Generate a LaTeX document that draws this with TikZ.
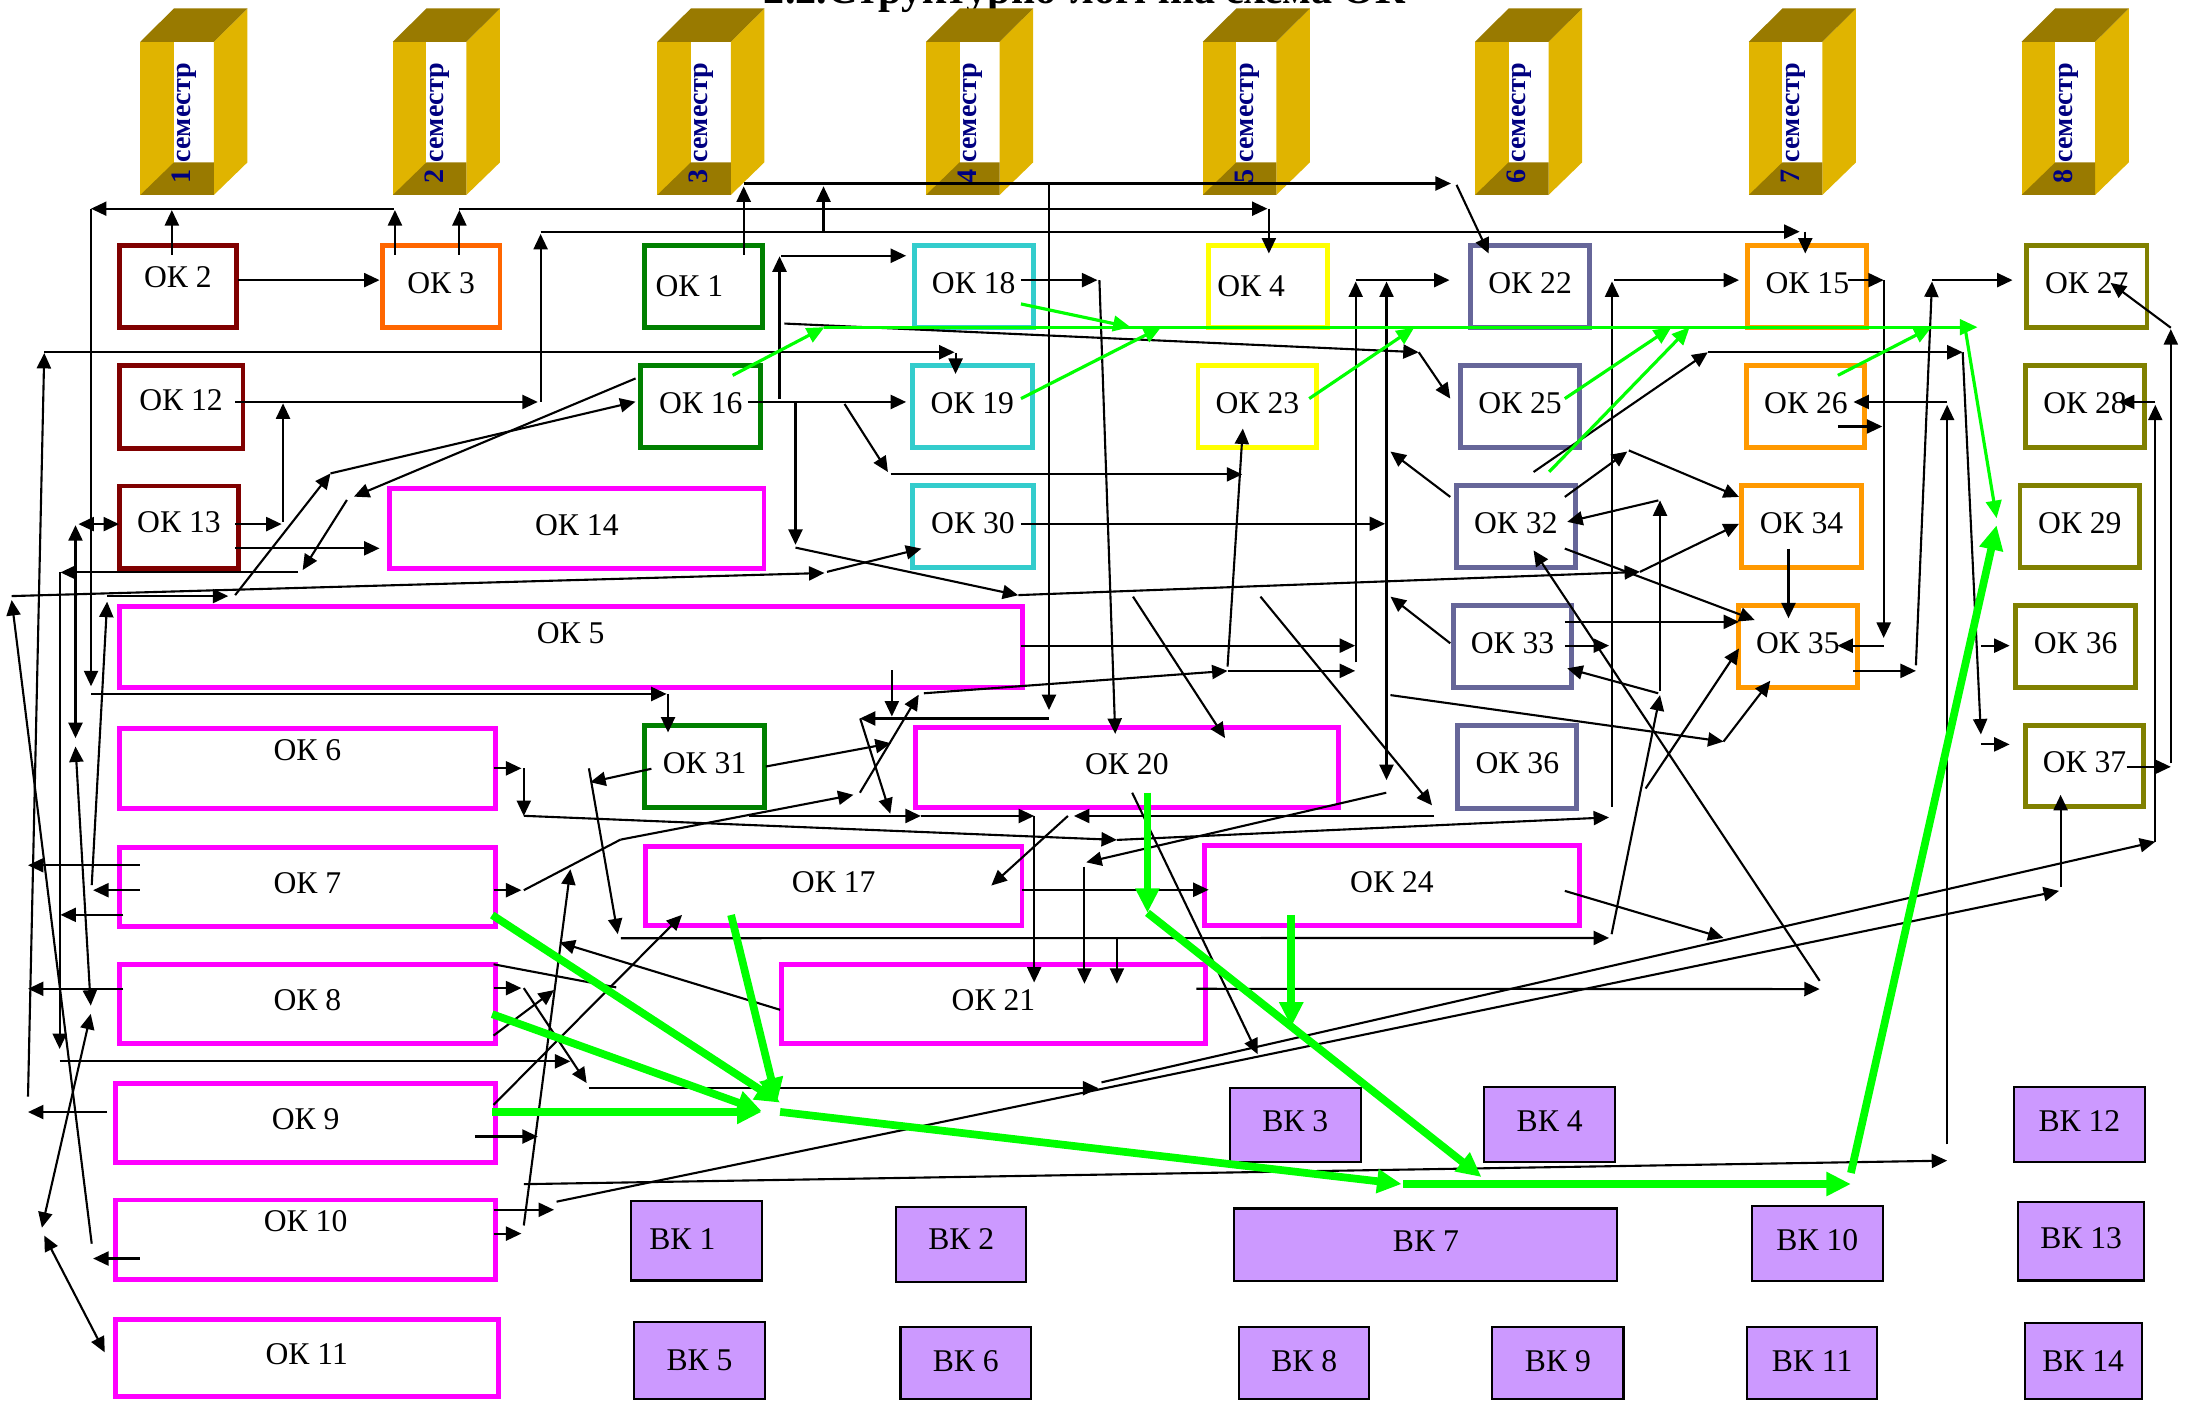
\documentclass[tikz,border=0pt]{standalone}
\usepackage{fontspec}
\setmainfont{Liberation Serif}
\usepackage{xcolor}
\usepackage{tikz}
\usetikzlibrary{arrows.meta,fit}
\definecolor{okred}{HTML}{800000}
\definecolor{okorange}{HTML}{FF6600}
\definecolor{okgreen}{HTML}{008000}
\definecolor{okcyan}{HTML}{33CCCC}
\definecolor{okyellow}{HTML}{FFFF00}
\definecolor{okslate}{HTML}{666699}
\definecolor{okamber}{HTML}{FF9900}
\definecolor{okolive}{HTML}{808000}
\definecolor{okmag}{HTML}{FF00FF}
\definecolor{vkfill}{HTML}{CC99FF}
\definecolor{gline}{HTML}{00FF00}
\definecolor{goldL}{HTML}{E0B400}
\definecolor{goldD}{HTML}{997A00}
\definecolor{semtext}{HTML}{000080}
\tikzset{
  box/.style={draw, line width=1.4pt, inner sep=0pt},
  vk/.style={draw=black, fill=vkfill, line width=0.6pt, inner sep=0pt},
  txt/.style={font=\fontsize{9}{10}\selectfont, inner sep=0pt},
  ln/.style={line width=0.6pt},
  arr/.style={ln, -{Triangle[length=4.4pt,width=4pt]}},
  darr/.style={ln, {Triangle[length=4.4pt,width=4pt]}-{Triangle[length=4.4pt,width=4pt]}},
  garr/.style={draw=gline, line width=0.9pt, -{Triangle[length=5pt,width=4.4pt]}},
  gthick/.style={draw=gline, line width=2.2pt, -{Triangle[length=7pt,width=6.5pt]}},
  semlab/.style={rotate=90, anchor=base west, text=semtext, inner sep=0pt,
    font=\bfseries\fontsize{8}{10}\selectfont}
}
% box: [text shift]{name}{style}{corner}{corner}{text}
\newcommand{\okbox}[6][1pt]{\node[#3, fit={(#4) (#5)}, label={[txt, yshift=#1]center:#6}] (#2) {};}
% semester frame: {x}{number}
\newcommand{\semframe}[2]{
  \fill[goldL] (#1,29.8) rectangle (#1+24,139.2);
  \fill[goldL] (#1+52.5,29.8) -- (#1+76.5,6) -- (#1+76.5,115.9) -- (#1+52.5,139.2) -- cycle;
  \fill[goldD] (#1,29.8) -- (#1+52.5,29.8) -- (#1+76.5,6) -- (#1+24,6) -- cycle;
  \fill[goldD] (#1,139.2) -- (#1+24,115.9) -- (#1+52.5,115.9) -- (#1+52.5,139.2) -- cycle;
  \node[semlab] (sem#2) at (#1+36,131.5) {#2 семестр};
}

\begin{document}
\begin{tikzpicture}[x=0.014005cm, y=-0.014005cm]
  \useasboundingbox (0,0) rectangle (1568,1000);
  \node[anchor=base west, inner sep=0pt, font=\bfseries\fontsize{12}{14}\selectfont] (title) at (545,2.5) {2.2.Структурно-логічна схема ОК};

  \semframe{100.2}{1}
  \semframe{280.5}{2}
  \semframe{469.3}{3}
  \semframe{661.2}{4}
  \semframe{858.8}{5}
  \semframe{1053.2}{6}
  \semframe{1248.7}{7}
  \semframe{1443.5}{8}

  % row 1
  \okbox[2.7pt]{ok2}{box, draw=okred}{85,175}{169,234}{ОК 2}
  \okbox{ok3}{box, draw=okorange}{273,175}{357,234}{ОК 3}
  \node[box, draw=okgreen, fit={(460,175) (544.5,234)}, label={[txt, xshift=-4pt]center:ОК 1}] (ok1) {};
  \okbox{ok18}{box, draw=okcyan}{652.7,175}{737.8,234}{ОК 18}
  \node[box, draw=okyellow, fit={(863,175) (947.7,234)}, label={[txt, xshift=-4.8pt]center:ОК 4}] (ok4) {};
  \okbox{ok22}{box, draw=okslate}{1050,175}{1135,234}{ОК 22}
  \okbox{ok15}{box, draw=okamber}{1248,175}{1333,234}{ОК 15}
  \okbox{ok27}{box, draw=okolive}{1447,175}{1533,234}{ОК 27}
  % row 2
  \okbox[2pt]{ok12}{box, draw=okred}{85,261}{173.5,320}{ОК 12}
  \okbox{ok16}{box, draw=okgreen}{457.5,261}{543.2,319.6}{ОК 16}
  \okbox{ok19}{box, draw=okcyan}{651.4,261}{737,319.6}{ОК 19}
  \okbox{ok23}{box, draw=okyellow}{855.4,261}{940.2,319.6}{ОК 23}
  \okbox{ok25}{box, draw=okslate}{1043,261}{1127.7,319.5}{ОК 25}
  \okbox{ok26}{box, draw=okamber}{1247.3,261}{1331.6,319.5}{ОК 26}
  \okbox{ok28}{box, draw=okolive}{1446,261}{1531.5,319.5}{ОК 28}
  % row 3
  \okbox[1.4pt]{ok13}{box, draw=okred}{85,347}{170.5,405.8}{ОК 13}
  \okbox{ok14}{box, draw=okmag}{278.3,348.7}{545.5,405.8}{ОК 14}
  \okbox{ok30}{box, draw=okcyan}{651.4,346.6}{738,405.3}{ОК 30}
  \okbox{ok32}{box, draw=okslate}{1040,346.6}{1124.7,405.3}{ОК 32}
  \okbox{ok34}{box, draw=okamber}{1243.6,346.6}{1329,405.3}{ОК 34}
  \okbox{ok29}{box, draw=okolive}{1442.3,346.6}{1527.7,405.3}{ОК 29}
  % row 4
  \okbox[4pt]{ok5}{box, draw=okmag}{85,433.2}{730,491}{ОК 5}
  \okbox{ok33}{box, draw=okslate}{1038,432.6}{1122,490.7}{ОК 33}
  \okbox{ok35}{box, draw=okamber}{1241,432.6}{1326.4,490.7}{ОК 35}
  \okbox{ok36}{box, draw=okolive}{1439.3,432.6}{1524.8,490.7}{ОК 36}
  % row 5
  \okbox[5pt]{ok6}{box, draw=okmag}{85,520}{354,577}{ОК 6}
  \okbox{ok31}{box, draw=okgreen}{460.5,518}{545.7,576.6}{ОК 31}
  \okbox{ok20}{box, draw=okmag}{653.5,519.3}{955.7,576.6}{ОК 20}
  \okbox{ok36b}{box, draw=okslate}{1041,518}{1125.8,577}{ОК 36}
  \okbox{ok37}{box, draw=okolive}{1446,518}{1530.7,575.7}{ОК 37}
  % rows 6-10
  \okbox{ok7}{box, draw=okmag}{85,605}{354,661.6}{ОК 7}
  \okbox{ok17}{box, draw=okmag}{460.8,604.3}{729.7,660.9}{ОК 17}
  \okbox{ok24}{box, draw=okmag}{860,604}{1127.7,660.9}{ОК 24}
  \okbox{ok8}{box, draw=okmag}{85,688.5}{354,745}{ОК 8}
  \okbox{ok21}{box, draw=okmag}{557.8,688.5}{860.9,745}{ОК 21}
  \okbox{ok9}{box, draw=okmag}{82.4,773.3}{354,830}{ОК 9}
  \okbox[5.3pt]{ok10}{box, draw=okmag}{82.4,856.8}{354,913.3}{ОК 10}
  \okbox{ok11}{box, draw=okmag}{82.4,942}{355.7,997}{ОК 11}

  % elective blocks
  \okbox{vk3}{vk}{878.3,776.7}{971.5,829.4}{ВК 3}
  \okbox{vk4}{vk}{1059.7,776.2}{1153.3,829.6}{ВК 4}
  \okbox{vk12}{vk}{1437.9,776.2}{1531.5,829.6}{ВК 12}
  \node[vk, fit={(450.7,857.4) (543.8,914.3)}, label={[txt, xshift=-4pt, yshift=0.5pt]center:ВК 1}] (vk1) {};
  \okbox[1.5pt]{vk2}{vk}{640,861.6}{732.7,915.2}{ВК 2}
  \okbox{vk7}{vk}{881.4,862.9}{1154.8,914.9}{ВК 7}
  \okbox{vk10}{vk}{1251,861.4}{1344.2,914.9}{ВК 10}
  \okbox{vk13}{vk}{1440.8,858.5}{1531.1,914.3}{ВК 13}
  \okbox[0pt]{vk5}{vk}{452.9,943.8}{546,999}{ВК 5}
  \okbox[0.5pt]{vk6}{vk}{643,947.7}{736.2,999}{ВК 6}
  \okbox[0.5pt]{vk8}{vk}{884.9,947.7}{977.6,999}{ВК 8}
  \okbox[0.5pt]{vk9}{vk}{1065.6,947.8}{1159.2,999}{ВК 9}
  \okbox[0.5pt]{vk11}{vk}{1247.3,947.8}{1340.5,999}{ВК 11}
  \okbox[0pt]{vk14}{vk}{1445.6,944.9}{1529.2,999}{ВК 14}

  % top buses
  \draw[arr] (122.7,182) -- (122.7,150);
  \draw[arr] (170,200) -- (271,200);
  \draw[arr] (282,182) -- (282,150);
  \draw[arr] (281,149) -- (65,149);
  \draw[arr] (65,149) -- (65,490);
  \draw[arr] (65,495.5) -- (476,495.5);
  \draw[arr] (477,495.5) -- (477,523);
  \draw[arr] (328,182) -- (328,150);
  \draw[arr] (328,149) -- (905,149);
  \draw[arr] (906,149) -- (906,181);
  \draw[arr] (168,287) -- (384,287);
  \draw[arr] (386,287) -- (386,167);
  \draw[arr] (386,165.4) -- (1285,165.4);
  \draw[arr] (1289,165.4) -- (1289,181);
  \draw[arr] (531,182) -- (531,133);
  \draw[arr] (531,131) -- (1036,131);
  \draw[arr] (1040,132) -- (1063,181);
  \draw[arr] (588,165.4) -- (588,133);
  \draw[arr] (749,131) -- (749,507);
  \draw[arr] (749,513) -- (614,513);
  \draw[arr] (556.6,285) -- (556.6,183);
  \draw[arr] (557.7,182.6) -- (647,182.6);
  \draw[arr] (534,287) -- (647,287);
  \draw[arr] (568,288) -- (568,389);
  \draw[arr] (568,391) -- (727,425);
  \draw[arr] (603,288.4) -- (634,337);
  \draw[arr] (636,338.7) -- (887,338.7);
  \draw[arr] (876.5,476) -- (887.4,306);
  \draw[arr] (876.5,479) -- (967.6,479);
  \draw[arr] (659.7,495) -- (876.5,479);
  \draw[arr] (614,566) -- (656,496);
  \draw[arr] (729,461) -- (967.6,461);
  \draw[arr] (968,473) -- (968,201);
  \draw[arr] (968,200) -- (1035,200);
  \draw[darr] (990,557) -- (990,201);
  \draw[arr] (729,374) -- (989,374);
  \draw[arr] (809,426) -- (874.7,527);
  \draw[arr] (900,426) -- (1022.5,575);
  \draw[arr] (729,200) -- (783.6,200);
  \draw[arr] (785,200) -- (796.3,524);
  \draw[arr] (560,231) -- (1013,251.5);
  \draw[arr] (1013,251.5) -- (1035.5,284.6);
  \draw[arr] (31.6,251.5) -- (681.6,251.5);
  \draw[arr] (682.3,252) -- (682.3,267);
  \draw[arr] (20,783) -- (31.6,252);
  \draw[arr] (8.3,425.6) -- (588.7,409.1);
  \draw[arr] (590.5,408.3) -- (657.9,391.7);

  % left side
  \draw[arr] (453.8,270.2) -- (252.7,354.6);
  \draw[arr] (247.7,357) -- (216.1,407);
  \draw[arr] (212.8,408.7) -- (43.2,408.7);
  \draw[arr] (42.6,408.7) -- (42.6,749);
  \draw[arr] (76.5,425.6) -- (163,425.6);
  \draw[arr] (167.9,424.9) -- (236,338);
  \draw[arr] (236,338) -- (453.8,286.8);
  \draw[arr] (65.5,888) -- (8.3,428.4);
  \draw[darr] (53.9,375) -- (53.9,527);
  \draw[darr] (56,374.2) -- (85,374.2);
  \draw[darr] (53.9,533) -- (64.8,718);
  \draw[arr] (65.5,632) -- (76.5,429.6);
  \draw[arr] (167.9,374.2) -- (201.1,374.2);
  \draw[arr] (202.1,372.5) -- (202.1,288);
  \draw[arr] (167.9,391.5) -- (271,391.5);
  \draw[arr] (352.4,548.6) -- (372.3,548.6);
  \draw[arr] (374,548.6) -- (374,582.6);
  \draw[arr] (99.7,617.8) -- (20,617.8);
  \draw[arr] (99.7,635.6) -- (66.5,635.6);
  \draw[arr] (88.1,653.2) -- (43.2,653.2);
  \draw[arr] (88.1,706) -- (20,706);
  \draw[darr] (64.8,723.9) -- (29.9,876.6);
  \draw[darr] (31.6,882.2) -- (74.8,965.6);
  \draw[arr] (99.7,898.6) -- (66.5,898.6);
  \draw[arr] (76.5,794) -- (20,794);
  \draw[arr] (42.6,757.8) -- (407.3,757.8);

  % middle
  \draw[arr] (352.4,705.5) -- (372.3,705.5);
  \draw[arr] (374,705.5) -- (418.9,773.3);
  \draw[arr] (420.5,777) -- (784.3,777);
  \draw[arr] (352.4,635.6) -- (372.3,635.6);
  \draw[ln] (374,635.6) -- (443,599.5);
  \draw[arr] (443,599.5) -- (609.4,567.5);
  \draw[arr] (374,582.5) -- (797.5,599.7);
  \draw[arr] (797.5,599.7) -- (1148.9,583.6);
  \draw[arr] (420.5,548.6) -- (441.1,667);
  \draw[arr] (443.3,669.9) -- (1148.9,669.7);
  \draw[arr] (374,875) -- (407.3,620.6);
  \draw[arr] (352.4,863.8) -- (395.6,863.8);
  \draw[arr] (397.4,858) -- (1470.2,636.1);
  \draw[arr] (1471.3,633.2) -- (1471.3,567.5);
  \draw[arr] (352.4,880.8) -- (372.3,880.8);
  \draw[arr] (374,845.5) -- (1390.3,828.7);
  \draw[arr] (339.1,811.5) -- (384,811.5);
  \draw[arr] (352.4,788.9) -- (487,653.2);
  \draw[arr] (352.4,739.4) -- (395.6,706.9);
  \draw[ln] (352.4,688.5) -- (440,705);
  \draw[arr] (557,721) -- (399.5,672.9);
  \draw[arr] (465.1,548.9) -- (421.4,558.5);
  \draw[arr] (546.8,547.3) -- (636.1,530.7);
  \draw[arr] (614.2,513) -- (635.7,581);
  \draw[arr] (636.8,478.4) -- (636.8,511.6);
  \draw[arr] (808.4,566) -- (898,752.7);
  \draw[arr] (989.8,566) -- (775.6,615.7);
  \draw[arr] (774.3,618.7) -- (774.3,702.4);
  \draw[arr] (738.4,582.6) -- (738.4,701.5);
  \draw[arr] (797.5,669.9) -- (797.5,702.4);
  \draw[arr] (1024,582.6) -- (766.8,582.6);
  \draw[arr] (762.5,582.6) -- (707.8,632.3);
  \draw[arr] (535,582.6) -- (657.5,582.6);
  \draw[arr] (657.5,582.6) -- (738.4,582.6);
  \draw[arr] (729.7,635.3) -- (863,635.3);
  \draw[arr] (854.3,706) -- (1299.3,706.2);

  % right side
  \draw[arr] (1151,576) -- (1151,201);
  \draw[arr] (1152.6,200) -- (1241.7,200);
  \draw[arr] (1319.7,200) -- (1345,200);
  \draw[arr] (1345,200) -- (1345,455.5);
  \draw[arr] (1345,461) -- (1312,461);
  \draw[arr] (1323.4,479) -- (1368,479);
  \draw[arr] (1368,475) -- (1379.5,201);
  \draw[arr] (1379.6,200) -- (1437,200);
  \draw[arr] (1518.5,547.5) -- (1550,547.5);
  \draw[arr] (1550,545) -- (1550,235);
  \draw[arr] (1550,234) -- (1507,202);
  \draw[arr] (1219.4,251.5) -- (1401.4,251.5);
  \draw[arr] (1401.4,251.5) -- (1414.4,524.4);
  \draw[arr] (1414.4,531.5) -- (1434.9,531.5);
  \draw[arr] (1095,337) -- (1219.4,251.5);
  \draw[arr] (1390.3,817) -- (1390.3,289);
  \draw[arr] (1390.3,287) -- (1323.4,287);
  \draw[arr] (1312.3,304.5) -- (1344,304.5);
  \draw[arr] (1538.9,601) -- (1538.9,289);
  \draw[arr] (1538.9,287) -- (1513,287);
  \draw[arr] (1035.5,354.8) -- (992.8,322.4);
  \draw[arr] (1035.5,459.3) -- (992.8,426);
  \draw[arr] (1117.3,354.8) -- (1161.9,322.4);
  \draw[arr] (1163,321.6) -- (1241.7,354.8);
  \draw[arr] (1185.3,493.7) -- (1185.3,357.3);
  \draw[arr] (1184.1,357.3) -- (1119,372.6);
  \draw[arr] (1184,495) -- (1119,477.2);
  \draw[arr] (1117.3,391.7) -- (1252.9,442.7);
  \draw[arr] (727.1,424.9) -- (1171,408.3);
  \draw[arr] (1171,408.3) -- (1241.7,374);
  \draw[arr] (1117.3,444) -- (1241.7,444);
  \draw[arr] (1117.3,461) -- (1148.9,461);
  \draw[arr] (1277,391.7) -- (1277,441.5);
  \draw[arr] (1299.3,700.3) -- (1095,393);
  \draw[arr] (992.8,496.3) -- (1230.6,529.5);
  \draw[arr] (1230.6,529.5) -- (1264,486);
  \draw[arr] (1150.7,667) -- (1185.3,496.3);
  \draw[arr] (1175,563) -- (1241.7,463);
  \draw[arr] (1414.4,461) -- (1434.9,461);
  \draw[arr] (1117.3,636.1) -- (1230.6,669.7);
  \draw[arr] (786.5,772.8) -- (1538.9,601);

  % green links
  \draw[garr] (523.1,268) -- (588.7,233.6);
  \draw[garr] (588.7,233.6) -- (1412,233.6);
  \draw[garr] (1403,233.6) -- (1425.6,370);
  \draw[garr] (729,217) -- (807.3,233.6);
  \draw[garr] (729,284.6) -- (829.1,233.6);
  \draw[garr] (934.8,284.6) -- (1009.7,234);
  \draw[garr] (1117.3,284.6) -- (1193.4,233.6);
  \draw[garr] (1106.1,336.9) -- (1206.4,233.6);
  \draw[garr] (1312.3,268) -- (1379.2,233.6);
  \draw[gthick] (351.4,653.3) -- (557,787.3);
  \draw[gthick] (351.4,724.1) -- (543.8,793.3);
  \draw[gthick] (351.4,793.9) -- (543.8,793.9);
  \draw[gthick] (522,653.3) -- (554.8,787.3);
  \draw[gthick] (557,793.9) -- (1000.8,845.4);
  \draw[gthick] (1002,845.4) -- (1321.6,845.4);
  \draw[gthick] (819.3,566) -- (819.3,651.8);
  \draw[gthick] (819.3,651.8) -- (1057.8,840.4);
  \draw[gthick] (922,653.3) -- (922,733.1);
  \draw[gthick] (1321.6,837.5) -- (1425.6,375);
\end{tikzpicture}
\end{document}
